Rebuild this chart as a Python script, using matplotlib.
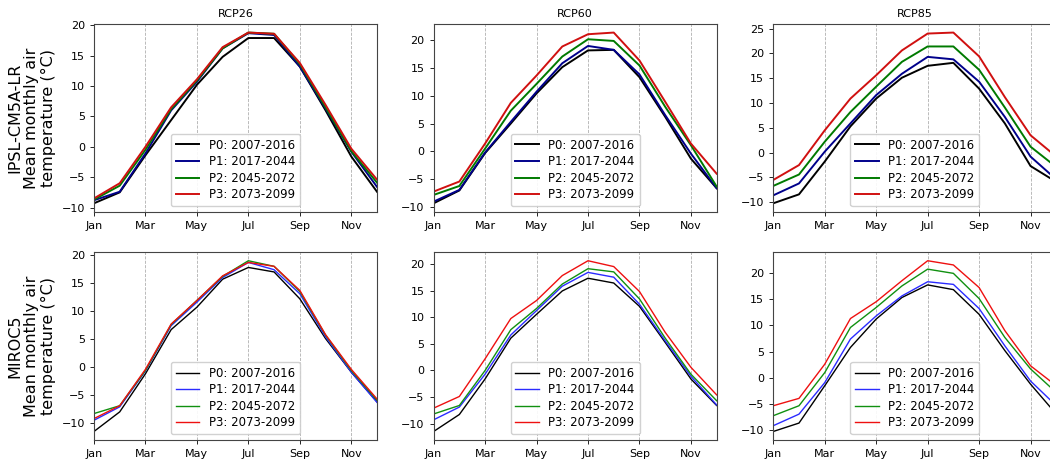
import numpy as np
import matplotlib
matplotlib.use("Agg")
import matplotlib.pyplot as plt

months = ["Jan", "Feb", "Mar", "Apr", "May", "Jun",
          "Jul", "Aug", "Sep", "Oct", "Nov", "Dec"]
periods = ["P0: 2007-2016", "P1: 2017-2044", "P2: 2045-2072", "P3: 2073-2099"]
scenarios = ["RCP26", "RCP60", "RCP85"]
models = ["IPSL-CM5A-LR", "MIROC5"]

# IPSL-CM5A-LR, mean monthly air temperature (degC), one row per period
ipsl_rcp26 = [
    [-9.3, -7.5, -1.4, 4.4, 10.2, 14.8, 17.9, 17.9, 13.2, 6.0, -1.6, -7.4],
    [-8.8, -7.4, -1.1, 6.0, 10.7, 16.2, 18.7, 18.4, 13.2, 6.3, -0.8, -6.6],
    [-8.7, -6.4, -0.5, 6.2, 10.9, 16.2, 18.8, 18.6, 13.6, 6.5, -0.7, -5.9],
    [-8.5, -6.0, 0.0, 6.5, 11.1, 16.4, 18.8, 18.6, 13.8, 6.9, -0.3, -5.4],
]
ipsl_rcp60 = [
    [-9.3, -7.0, -0.3, 5.0, 10.4, 15.1, 18.1, 18.2, 13.3, 6.2, -1.3, -6.6],
    [-9.0, -6.9, -0.2, 5.3, 10.7, 15.8, 18.9, 18.2, 13.8, 6.5, -0.4, -6.6],
    [-7.8, -6.2, 0.5, 7.3, 12.1, 17.0, 20.1, 19.8, 15.4, 8.0, 1.1, -6.3],
    [-7.2, -5.4, 1.4, 8.7, 13.6, 18.8, 21.0, 21.3, 16.3, 8.9, 1.4, -4.0],
]
ipsl_rcp85 = [
    [-10.2, -8.4, -1.8, 5.3, 10.9, 15.1, 17.5, 18.1, 12.9, 5.9, -2.7, -5.9],
    [-8.6, -6.2, 0.2, 5.9, 11.6, 15.9, 19.3, 18.8, 14.3, 7.2, -0.8, -5.4],
    [-6.7, -4.4, 2.2, 8.2, 13.3, 18.3, 21.4, 21.4, 16.7, 9.1, 1.2, -2.9],
    [-5.5, -2.5, 4.5, 10.9, 15.6, 20.6, 24.0, 24.2, 19.4, 11.2, 3.5, -0.8],
]

# MIROC5
miroc_rcp26 = [
    [-11.5, -8.0, -1.2, 6.7, 10.7, 15.7, 17.8, 17.0, 12.2, 5.1, -0.9, -6.2],
    [-9.5, -7.1, -0.7, 7.4, 11.6, 16.0, 18.7, 17.4, 13.1, 5.4, -0.9, -6.3],
    [-8.3, -6.9, -0.6, 7.6, 11.9, 16.2, 19.0, 18.0, 13.5, 5.7, -0.6, -5.9],
    [-9.2, -6.9, -0.4, 7.7, 11.9, 16.3, 18.7, 18.0, 13.7, 5.8, -0.4, -5.7],
]
miroc_rcp60 = [
    [-11.5, -8.3, -1.6, 6.1, 10.6, 15.0, 17.4, 16.5, 12.1, 5.3, -1.6, -6.6],
    [-9.3, -6.9, -0.7, 6.7, 11.3, 15.9, 18.5, 17.6, 12.5, 5.6, -1.1, -6.5],
    [-8.2, -6.6, 0.0, 7.7, 11.7, 16.3, 19.2, 18.6, 13.5, 6.1, -0.7, -5.7],
    [-7.1, -4.9, 2.2, 9.8, 13.2, 17.9, 20.7, 19.6, 14.9, 7.2, 0.6, -4.6],
]
miroc_rcp85 = [
    [-10.2, -8.6, -1.5, 5.8, 11.2, 15.3, 17.7, 16.8, 12.1, 5.2, -1.2, -6.9],
    [-9.1, -6.9, -0.9, 7.4, 11.8, 15.6, 18.3, 17.8, 13.2, 6.1, -0.6, -5.3],
    [-7.2, -5.3, 1.0, 9.6, 13.4, 17.5, 20.7, 19.9, 15.1, 7.7, 1.7, -2.8],
    [-5.3, -3.9, 2.6, 11.3, 14.5, 18.5, 22.3, 21.5, 17.2, 9.0, 2.3, -1.5],
]

data = [[ipsl_rcp26, ipsl_rcp60, ipsl_rcp85],
        [miroc_rcp26, miroc_rcp60, miroc_rcp85]]

top_colors = ["k", "#00008b", "#007a00", "#d01010"]
bot_colors = ["k", "#2b2bff", "#109010", "#ee1010"]
line_w = [1.4, 1.0]

fig, axes = plt.subplots(2, 3, figsize=(10.5, 4.62), dpi=100)
fig.subplots_adjust(left=0.0895, right=1.006, bottom=0.0476, top=0.948,
                    wspace=0.2, hspace=0.215)

x = np.arange(12)
for r in range(2):
    colors = top_colors if r == 0 else bot_colors
    for c in range(3):
        ax = axes[r, c]
        for k in range(4):
            ax.plot(x, data[r][c][k], color=colors[k], lw=line_w[r],
                    label=periods[k])
        ax.set_xlim(0, 11)
        ax.set_xticks(x[::2])
        ax.set_xticklabels(months[::2])
        ax.tick_params(labelsize=8, length=3, width=0.6)
        ax.grid(axis="x", linestyle="--", color="#b0b0b0", lw=0.6)
        for s in ax.spines.values():
            s.set_color("#444444")
            s.set_linewidth(0.8)
        ax.legend(loc="lower center", fontsize=8.5, handlelength=2.0,
                  labelspacing=0.3, borderpad=0.4, framealpha=0.9)
        if r == 0:
            ax.set_title(scenarios[c], fontsize=8, pad=5)
        if c == 0:
            ax.set_ylabel(models[r] + "\nMean monthly air\ntemperature (°C)",
                          fontsize=11.5, linespacing=1.15)

fig.savefig("out.png", dpi=100)
